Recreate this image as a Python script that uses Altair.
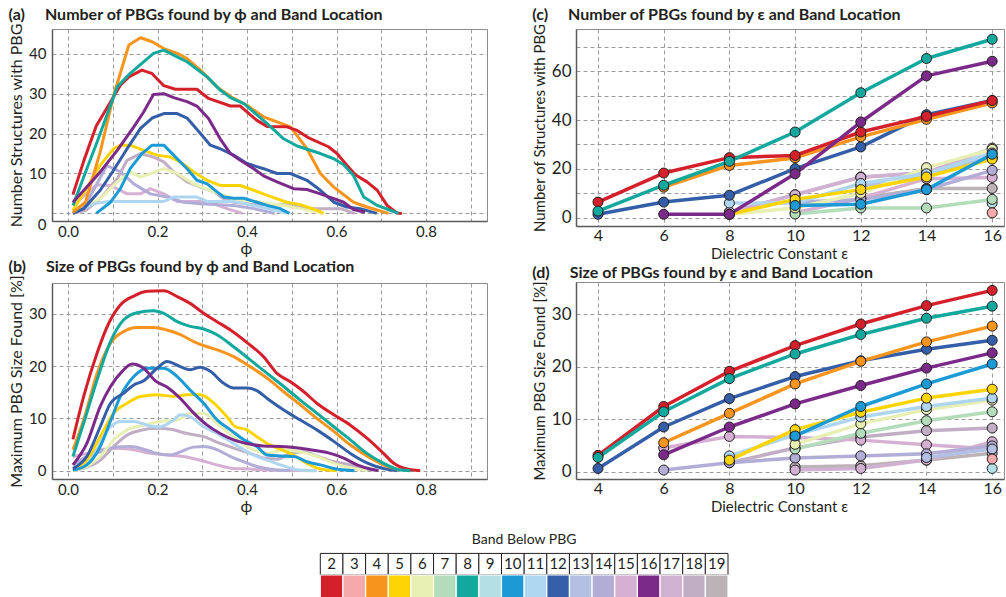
import altair as alt
import pandas as pd

# ---------------- bands & colours ----------------
BANDS = list(range(2, 20))
BAND_COLORS = ["#d4202a", "#f4a9ab", "#f7941d", "#fcd404", "#e8efb2", "#b3dcbb",
               "#12a89d", "#b3dfe5", "#1b9ad6", "#afd6f1", "#355ea8", "#b3c0e3",
               "#b2add7", "#d6b0d3", "#7b2a8a", "#d1b1d2", "#c1aec4", "#bcb3b6"]
DRAW_ORDER = [19, 18, 17, 15, 14, 13, 9, 7, 6, 3, 11, 5, 10, 12, 4, 2, 8, 16]

# ---------------- panel (a): number of PBGs vs phi ----------------
A2_X = [0.011, 0.035, 0.063, 0.095, 0.117, 0.136, 0.165, 0.187, 0.214, 0.240, 0.288, 0.314, 0.363, 0.385, 0.422, 0.445, 0.489, 0.512, 0.538, 0.582, 0.601, 0.623, 0.642, 0.668, 0.691, 0.713, 0.735, 0.746]
A2_Y = [4.7, 13.1, 21.9, 27.9, 32.1, 34.2, 35.9, 35.1, 32.0, 31.1, 31.1, 28.8, 26.9, 26.9, 23.3, 21.8, 21.7, 20.8, 18.9, 16.7, 15.0, 12.1, 9.7, 7.9, 5.8, 2.0, 0.1, 0]
A4_X = [0.011, 0.039, 0.072, 0.102, 0.136, 0.162, 0.188, 0.214, 0.244, 0.266, 0.296, 0.333, 0.370, 0.400, 0.437, 0.482, 0.497, 0.534, 0.564, 0.594, 0.638, 0.668, 0.716]
A4_Y = [0.3, 2.8, 15.4, 29.6, 42.2, 44.0, 43.0, 41.3, 40.1, 38.8, 35.9, 31.7, 28.8, 27.1, 24.2, 22.3, 21.7, 16.2, 10.0, 6.6, 2.8, 1.6, 0]
A8_X = [0.011, 0.042, 0.065, 0.110, 0.139, 0.191, 0.214, 0.244, 0.266, 0.311, 0.340, 0.363, 0.393, 0.445, 0.482, 0.512, 0.564, 0.594, 0.616, 0.638, 0.661, 0.691, 0.720, 0.739]
A8_Y = [2.0, 11.2, 17.9, 31.7, 35.1, 40.1, 40.9, 39.2, 38.0, 34.2, 30.9, 29.0, 27.5, 22.5, 18.7, 16.9, 15.0, 13.7, 12.2, 9.5, 4.1, 2.0, 0.8, 0]
A16_X = [0.011, 0.042, 0.072, 0.110, 0.147, 0.169, 0.191, 0.214, 0.236, 0.266, 0.288, 0.314, 0.340, 0.363, 0.385, 0.415, 0.437, 0.467, 0.504, 0.534, 0.564, 0.594, 0.616, 0.638, 0.664]
A16_Y = [2.8, 6.6, 10.4, 15.8, 21.7, 25.4, 29.8, 30.0, 29.0, 28.0, 26.9, 23.8, 18.7, 15.0, 13.3, 11.2, 9.4, 7.9, 6.2, 6.0, 4.9, 3.7, 2.8, 1.0, 0.3]
A12_X = [0.011, 0.035, 0.072, 0.100, 0.132, 0.162, 0.188, 0.214, 0.244, 0.266, 0.296, 0.318, 0.340, 0.370, 0.400, 0.437, 0.467, 0.497, 0.534, 0.564, 0.594, 0.623, 0.653, 0.690]
A12_Y = [0, 1.2, 5.8, 10.5, 16.2, 21.3, 23.9, 25.0, 25.0, 23.9, 20.0, 17.1, 16.2, 14.6, 12.5, 11.2, 10.0, 10.0, 8.3, 5.8, 2.8, 1.6, 1.2, 0]
A5_X = [0.011, 0.050, 0.072, 0.102, 0.117, 0.139, 0.169, 0.199, 0.229, 0.251, 0.281, 0.311, 0.340, 0.385, 0.415, 0.445, 0.489, 0.519, 0.556, 0.571]
A5_Y = [0.8, 7.9, 12.1, 16.2, 17.1, 17.1, 15.8, 14.6, 14.1, 12.9, 10.4, 8.3, 7.0, 7.0, 5.8, 4.5, 2.8, 2.2, 0.8, 0]
A10_X = [0.063, 0.095, 0.117, 0.139, 0.165, 0.188, 0.214, 0.236, 0.266, 0.288, 0.311, 0.333, 0.348, 0.370, 0.393, 0.422, 0.445, 0.474, 0.495]
A10_Y = [0, 2.8, 6.2, 11.2, 15.0, 17.1, 17.1, 14.6, 11.2, 8.3, 7.4, 5.4, 4.1, 3.8, 3.8, 2.8, 2.0, 1.2, 0]
A18_X = [0.011, 0.040, 0.072, 0.110, 0.132, 0.162, 0.191, 0.214, 0.236, 0.266, 0.296, 0.326, 0.348, 0.370, 0.400, 0.445, 0.489, 0.534, 0.564, 0.609, 0.640]
A18_Y = [0, 0.8, 3.7, 8.7, 13.3, 15.0, 14.1, 12.9, 10.4, 7.9, 6.6, 5.4, 3.7, 2.8, 2.4, 2.2, 2.2, 1.2, 1.2, 1.2, 0]
A6_X = [0.011, 0.072, 0.110, 0.139, 0.162, 0.214, 0.244, 0.281, 0.326, 0.370, 0.430, 0.482, 0.519, 0.570]
A6_Y = [0, 3.7, 7.9, 10.4, 9.1, 11.2, 10.0, 7.4, 5.4, 3.7, 2.8, 2.0, 1.2, 0]
A14_X = [0.011, 0.042, 0.087, 0.117, 0.147, 0.184, 0.221, 0.258, 0.296, 0.370, 0.415, 0.462]
A14_Y = [0, 2.8, 12.0, 10.4, 7.4, 4.9, 4.1, 2.8, 2.4, 2.0, 1.2, 0]
A15_X = [0.011, 0.065, 0.095, 0.132, 0.162, 0.184, 0.214, 0.244, 0.296, 0.326, 0.355, 0.390]
A15_Y = [2.0, 7.2, 7.0, 4.9, 4.9, 6.2, 4.9, 3.0, 3.0, 2.4, 1.2, 0]
A11_X = [0.020, 0.060, 0.090, 0.214, 0.236, 0.288, 0.311, 0.370, 0.415, 0.445, 0.489]
A11_Y = [0.5, 2.5, 3.0, 3.0, 4.1, 4.1, 3.0, 3.0, 2.0, 1.2, 0]

# ---------------- panel (b): size of PBGs vs phi ----------------
B2_X = [0.011, 0.035, 0.065, 0.091, 0.117, 0.147, 0.177, 0.214, 0.244, 0.273, 0.303, 0.333, 0.363, 0.400, 0.437, 0.467, 0.497, 0.527, 0.556, 0.594, 0.631, 0.668, 0.705, 0.728, 0.758, 0.787]
B2_Y = [6.0, 14.2, 22.5, 28.2, 31.7, 33.4, 34.3, 34.4, 33.3, 32.0, 30.1, 28.5, 26.9, 24.5, 21.8, 18.6, 17.0, 15.1, 12.9, 10.7, 8.7, 6.2, 3.3, 1.4, 0.3, 0]
B8_X = [0.011, 0.035, 0.065, 0.095, 0.124, 0.154, 0.191, 0.214, 0.244, 0.273, 0.303, 0.333, 0.370, 0.407, 0.445, 0.482, 0.519, 0.556, 0.594, 0.631, 0.668, 0.705, 0.743, 0.765]
B8_Y = [2.7, 9.1, 17.4, 24.7, 28.8, 30.2, 30.6, 30.1, 28.5, 27.6, 27.1, 26.0, 23.7, 21.2, 18.6, 16.1, 13.5, 11.0, 8.4, 5.9, 3.3, 1.4, 0.1, 0]
B4_X = [0.011, 0.035, 0.065, 0.095, 0.124, 0.154, 0.191, 0.221, 0.251, 0.281, 0.311, 0.340, 0.370, 0.407, 0.445, 0.482, 0.519, 0.556, 0.594, 0.631, 0.668, 0.705, 0.743]
B4_Y = [4.0, 9.7, 18.6, 24.4, 26.6, 27.4, 27.4, 26.9, 26.0, 24.7, 23.7, 22.9, 21.8, 19.9, 17.7, 15.1, 12.6, 10.0, 7.5, 4.9, 2.8, 1.1, 0.1]
B12_X = [0.011, 0.042, 0.072, 0.095, 0.124, 0.147, 0.169, 0.199, 0.221, 0.251, 0.273, 0.296, 0.318, 0.348, 0.370, 0.400, 0.422, 0.445, 0.482, 0.519, 0.556, 0.594, 0.631, 0.668, 0.705, 0.735]
B12_Y = [0.4, 2.7, 8.4, 12.9, 14.8, 16.4, 17.2, 19.6, 20.9, 19.9, 19.3, 19.8, 19.0, 16.7, 15.8, 15.8, 15.3, 13.8, 11.6, 9.7, 7.8, 5.6, 3.3, 1.5, 0.4, 0]
B16_X = [0.011, 0.042, 0.072, 0.095, 0.121, 0.143, 0.169, 0.195, 0.221, 0.251, 0.281, 0.311, 0.340, 0.370, 0.400, 0.437, 0.474, 0.519, 0.556, 0.586, 0.616, 0.646, 0.676, 0.694]
B16_Y = [1.1, 5.2, 12.3, 16.1, 19.0, 20.4, 19.6, 17.2, 16.0, 13.8, 11.0, 8.7, 7.1, 5.9, 5.2, 4.7, 4.6, 4.3, 3.8, 3.3, 2.4, 1.1, 0.3, 0]
B10_X = [0.011, 0.042, 0.072, 0.095, 0.117, 0.147, 0.177, 0.214, 0.244, 0.273, 0.303, 0.333, 0.363, 0.393, 0.422, 0.445, 0.474, 0.504, 0.534, 0.564, 0.594, 0.640]
B10_Y = [0.1, 1.1, 4.6, 9.5, 14.2, 18.0, 19.6, 19.6, 18.0, 15.4, 12.9, 9.7, 7.8, 5.9, 4.6, 3.0, 2.8, 2.7, 1.7, 1.1, 0.4, 0]
B5_X = [0.011, 0.042, 0.072, 0.102, 0.132, 0.162, 0.199, 0.236, 0.266, 0.296, 0.326, 0.355, 0.374, 0.400, 0.422, 0.445, 0.474, 0.504, 0.534, 0.564, 0.600]
B5_Y = [0.1, 2.0, 6.5, 11.0, 12.9, 14.2, 14.5, 14.2, 14.5, 14.5, 12.9, 10.3, 8.4, 7.8, 6.5, 5.2, 4.1, 3.0, 1.4, 0.3, 0]
B11_X = [0.011, 0.050, 0.095, 0.117, 0.147, 0.177, 0.206, 0.236, 0.251, 0.273, 0.303, 0.333, 0.370, 0.407, 0.445, 0.482, 0.519, 0.556]
B11_Y = [0.1, 2.0, 8.4, 9.4, 9.4, 8.7, 8.4, 9.7, 10.7, 10.3, 8.4, 7.1, 5.2, 3.3, 2.0, 0.9, 0.1, 0]
B6_X = [0.011, 0.042, 0.072, 0.102, 0.132, 0.169, 0.206, 0.244, 0.273, 0.303, 0.333, 0.370, 0.407, 0.445, 0.482, 0.519, 0.556, 0.594, 0.638, 0.668]
B6_Y = [0, 0.8, 2.7, 5.9, 7.8, 8.7, 9.4, 9.7, 11.0, 11.0, 9.0, 6.5, 4.3, 3.3, 4.0, 3.6, 2.7, 1.4, 0.4, 0]
B18_X = [0.011, 0.042, 0.072, 0.102, 0.132, 0.162, 0.199, 0.229, 0.266, 0.303, 0.340, 0.370, 0.407, 0.437, 0.467, 0.497, 0.527, 0.556, 0.594, 0.631, 0.668, 0.690]
B18_Y = [0, 0.7, 2.0, 4.6, 6.8, 7.7, 8.1, 7.9, 7.1, 6.5, 5.2, 4.3, 3.3, 2.4, 2.2, 3.3, 3.6, 2.8, 1.7, 1.1, 0.3, 0]
B14_X = [0.011, 0.042, 0.072, 0.110, 0.139, 0.169, 0.199, 0.229, 0.251, 0.281, 0.303, 0.333, 0.363, 0.393, 0.422, 0.467, 0.497]
B14_Y = [1.1, 2.7, 3.6, 4.5, 4.6, 4.1, 3.3, 3.0, 3.6, 4.5, 4.6, 4.0, 2.7, 1.7, 0.8, 0.1, 0]
B15_X = [0.011, 0.042, 0.072, 0.110, 0.147, 0.184, 0.221, 0.258, 0.296, 0.333, 0.370, 0.407, 0.445, 0.550]
B15_Y = [2.7, 3.3, 4.0, 4.3, 4.0, 3.3, 3.0, 2.7, 2.0, 1.1, 0.4, 0.3, 0.1, 0]

# ---------------- panels (c), (d): by dielectric constant ----------------
EPS = [4, 6, 8, 10, 12, 14, 16]
C2 = [6.4, 18.3, 24.6, 25.5, 35.1, 41.5, 48.0]
C3 = [None, None, None, None, None, None, 2.0]
C4 = [None, 12.5, 21.4, 24.5, 33.1, 40.3, 47.0]
C5 = [None, None, 1.4, 7.5, 11.5, 16.7, 24.0]
C6 = [None, None, 1.4, 4.0, 10.0, 20.5, 28.0]
C7 = [None, None, None, 1.5, 4.0, 4.0, 7.5]
C8 = [2.7, 13.3, 23.1, 35.1, 51.2, 65.2, 73.1]
C9 = [None, None, None, None, None, None, 6.0]
C10 = [None, None, None, 5.0, 5.5, 11.5, 26.0]
C11 = [None, None, 6.0, 6.0, 14.0, 18.0, 26.5]
C12 = [1.4, 6.4, 9.2, 20.1, 29.0, 42.2, 48.0]
C13 = [None, None, None, None, 13.0, 17.0, 25.0]
C14 = [None, None, None, 6.4, 7.4, 11.5, 19.4]
C15 = [None, None, None, 2.0, 8.0, 16.0, 16.5]
C16 = [None, 1.4, 1.4, 18.0, 39.2, 58.1, 64.1]
C17 = [None, None, 2.3, 9.4, 16.5, 18.5, 28.5]
C18 = [None, None, 2.3, 9.4, 16.7, 18.4, 24.5]
C19 = [None, None, None, None, 8.0, 12.0, 12.0]

D2 = [3.1, 12.4, 19.1, 24.0, 28.1, 31.6, 34.5]
D3 = [None, None, None, None, None, None, 2.4]
D4 = [None, 5.5, 11.1, 16.7, 21.0, 24.7, 27.7]
D5 = [None, None, 2.2, 8.0, 11.3, 14.0, 15.7]
D6 = [None, None, None, 5.2, 9.1, 11.8, 13.6]
D7 = [None, None, None, 4.3, 7.3, 9.7, 11.4]
D8 = [2.7, 11.4, 17.7, 22.4, 26.1, 29.2, 31.5]
D9 = [None, None, None, None, None, None, 0.6]
D10 = [None, None, None, 6.8, 12.4, 16.7, 20.5]
D11 = [None, None, 3.0, 7.0, 10.4, 12.4, 14.0]
D12 = [0.6, 8.5, 13.9, 18.1, 21.1, 23.3, 25.0]
D13 = [None, None, None, None, None, 2.7, 4.3]
D14 = [None, 0.3, 1.7, 2.6, 3.0, 3.4, 4.9]
D15 = [None, 4.5, 6.7, 6.5, 6.0, 5.1, 4.3]
D16 = [None, 3.2, 8.5, 12.9, 16.4, 19.7, 22.6]
D17 = [None, None, None, 0.3, 0.6, 2.2, 5.7]
D18 = [None, None, 1.7, 4.5, 6.6, 7.8, 8.3]
D19 = [None, None, None, 0.9, 1.1, 2.2, 3.5]

A_SERIES = {2: (A2_X, A2_Y), 4: (A4_X, A4_Y), 8: (A8_X, A8_Y), 16: (A16_X, A16_Y),
            12: (A12_X, A12_Y), 5: (A5_X, A5_Y), 10: (A10_X, A10_Y), 18: (A18_X, A18_Y),
            6: (A6_X, A6_Y), 14: (A14_X, A14_Y), 15: (A15_X, A15_Y), 11: (A11_X, A11_Y)}
B_SERIES = {2: (B2_X, B2_Y), 8: (B8_X, B8_Y), 4: (B4_X, B4_Y), 12: (B12_X, B12_Y),
            16: (B16_X, B16_Y), 10: (B10_X, B10_Y), 5: (B5_X, B5_Y), 11: (B11_X, B11_Y),
            6: (B6_X, B6_Y), 18: (B18_X, B18_Y), 14: (B14_X, B14_Y), 15: (B15_X, B15_Y)}
C_SERIES = {2: C2, 3: C3, 4: C4, 5: C5, 6: C6, 7: C7, 8: C8, 9: C9, 10: C10, 11: C11,
            12: C12, 13: C13, 14: C14, 15: C15, 16: C16, 17: C17, 18: C18, 19: C19}
D_SERIES = {2: D2, 3: D3, 4: D4, 5: D5, 6: D6, 7: D7, 8: D8, 9: D9, 10: D10, 11: D11,
            12: D12, 13: D13, 14: D14, 15: D15, 16: D16, 17: D17, 18: D18, 19: D19}

# ---------------- styling ----------------
FONT = "Lato"
TXT = "#231f20"
PADL = 8
PLOT_LEFT = 51.7          # page x of panel (a) plot area (origin of the legend row)
color_scale = alt.Scale(domain=[str(b) for b in BANDS], range=BAND_COLORS)
COLOR = alt.Color("band:N", scale=color_scale, legend=None)


def phi_frame(series):
    rows = []
    for b in DRAW_ORDER:
        if b in series:
            xs, ys = series[b]
            for x, y in zip(xs, ys):
                rows.append({"band": str(b), "x": x, "y": y})
    return pd.DataFrame(rows)


def eps_frame(series):
    rows = []
    for b in DRAW_ORDER:
        for e, v in zip(EPS, series[b]):
            if v is not None:
                rows.append({"band": str(b), "x": e, "y": v})
    return pd.DataFrame(rows)


def title(tag, text):
    return alt.TitleParams(tag + "\u2003\u2002" + text, anchor="start", frame="bounds",
                           fontSize=16, fontWeight="bold", font=FONT, color=TXT,
                           offset=0)


PHI_X_AXIS = dict(values=[0.0, 0.1, 0.2, 0.3, 0.4, 0.5, 0.6, 0.7, 0.8, 0.9],
                  labelExpr="(round(datum.value*10) % 2 == 0) ? format(datum.value, '.1f') : ''",
                  title="ϕ", titleFontSize=16, titleFontWeight="normal",
                  titleX=194, titleY=19, labelFontSize=15, labelPadding=3)
PHI_X_DOMAIN = [-0.0358, 0.9363]
EPS_X_AXIS = dict(values=EPS, title="Dielectric Constant ε", titleFontSize=15,
                  titleFontWeight="normal", titleX=203, titleY=20,
                  labelFontSize=16, labelPadding=1)
EPS_X_DOMAIN = [3.33, 16.36]


def phi_panel(series, ydom, yvals, ytitle, ttl, height, interp, label_offset=None):
    yax = dict(values=yvals, title=ytitle, titleFontSize=16, titleFontWeight="normal",
               labelFontSize=15, labelPadding=6, titlePadding=4)
    if label_offset is not None:
        yax["labelOffset"] = label_offset
    return alt.Chart(phi_frame(series)).mark_line(
        strokeWidth=3, interpolate=interp, clip=True, strokeJoin="round"
    ).encode(
        x=alt.X("x:Q", scale=alt.Scale(domain=PHI_X_DOMAIN, nice=False, zero=False),
                axis=alt.Axis(**PHI_X_AXIS)),
        y=alt.Y("y:Q", scale=alt.Scale(domain=ydom, nice=False, zero=False),
                axis=alt.Axis(**yax)),
        color=COLOR,
    ).properties(width=435, height=height, title=ttl)


def eps_panel(series, ydom, yvals, ylabexpr, ytitle, ttl, height):
    df = eps_frame(series)
    x = alt.X("x:Q", scale=alt.Scale(domain=EPS_X_DOMAIN, nice=False, zero=False),
              axis=alt.Axis(**EPS_X_AXIS))
    yax = dict(values=yvals, title=ytitle, titleFontSize=15, titleFontWeight="normal",
               labelFontSize=17, labelPadding=5, titlePadding=4)
    if ylabexpr:
        yax["labelExpr"] = ylabexpr
    y = alt.Y("y:Q", scale=alt.Scale(domain=ydom, nice=False, zero=False),
              axis=alt.Axis(**yax))
    base = alt.Chart(df).encode(x=x, y=y, color=COLOR)
    lines = base.mark_line(strokeWidth=3.5, clip=True, strokeJoin="round")
    pts = base.mark_circle(size=100, opacity=1, stroke="#231f20", strokeWidth=1)
    return alt.layer(lines, pts).properties(width=428, height=height, title=ttl)


zero_shift = alt.condition("datum.value == 0", alt.value(11), alt.value(0))

panel_a = phi_panel(A_SERIES, [-1.9, 46.2], [0, 10, 20, 30, 40], "Number Structures with PBG",
                    title("(a)", "Number of PBGs found by ϕ and Band Location"), 192, "linear",
                    label_offset=zero_shift)
panel_b = phi_panel(B_SERIES, [-1.6, 35.9], [0, 10, 20, 30], "Maximum PBG Size Found [%]",
                    title("(b)", "Size of PBGs found by ϕ and Band Location"), 196, "monotone")
panel_c = eps_panel(C_SERIES, [-3.4, 77.3], [0, 10, 20, 30, 40, 50, 60, 70],
                    "datum.value % 20 == 0 ? datum.label : ''", "Number of Structures with PBG",
                    title("(c)", "Number of PBGs found by ε and Band Location"), 197)
panel_d = eps_panel(D_SERIES, [-1.4, 36.1], [0, 10, 20, 30], None, "Maximum PBG Size Found [%]",
                    title("(d)", "Size of PBGs found by ε and Band Location"), 197)

# ---------------- legend table ----------------
LEG_LEFT = 320.0      # page x of first cell
CELL = 22.65
LEG_W = 940
LEG_H = 69
ROW = 21.6
TITLE_GAP = 0.63      # title centre above number row, in rows
leg_lo = -(LEG_LEFT - PLOT_LEFT) / CELL
leg_hi = leg_lo + LEG_W / CELL
y_lo = 1 - (TITLE_GAP + 0.5)
y_hi = y_lo + LEG_H / ROW
LEGEND_TITLE = "Band Below PBG"

leg_df = pd.DataFrame({
    "band": [str(b) for b in BANDS],
    "i0": list(range(len(BANDS))),
    "i1": [i + 1 for i in range(len(BANDS))],
    "ic": [i + 0.5 for i in range(len(BANDS))],
    "n0": [1.0] * len(BANDS), "n1": [2.0] * len(BANDS), "nc": [1.5] * len(BANDS),
    "c0": [2.0] * len(BANDS), "c1": [y_hi] * len(BANDS),
})
lx = alt.Scale(domain=[leg_lo, leg_hi], nice=False, zero=False)
ly = alt.Scale(domain=[y_lo, y_hi], nice=False, zero=False, reverse=True)
lbase = alt.Chart(leg_df)
num_cells = lbase.mark_rect(fill="white", stroke="#231f20", strokeWidth=1).encode(
    x=alt.X("i0:Q", scale=lx, axis=None), x2="i1:Q",
    y=alt.Y("n0:Q", scale=ly, axis=None), y2="n1:Q")
num_text = lbase.mark_text(font=FONT, fontSize=15, color=TXT).encode(
    x=alt.X("ic:Q", scale=lx, axis=None), y=alt.Y("nc:Q", scale=ly, axis=None), text="band:N")
col_cells = lbase.mark_rect(stroke="white", strokeWidth=1.2).encode(
    x=alt.X("i0:Q", scale=lx, axis=None), x2="i1:Q",
    y=alt.Y("c0:Q", scale=ly, axis=None), y2="c1:Q", color=COLOR)
leg_title = alt.Chart(pd.DataFrame({"t": [LEGEND_TITLE], "x": [9.0], "y": [1 - TITLE_GAP]})).mark_text(
    font=FONT, fontSize=14, color=TXT).encode(
    x=alt.X("x:Q", scale=lx, axis=None), y=alt.Y("y:Q", scale=ly, axis=None), text="t:N")
legend = alt.layer(num_cells, col_cells, num_text, leg_title).properties(
    width=LEG_W, height=LEG_H, view=alt.ViewBackground(strokeOpacity=0))

left = alt.vconcat(panel_a, panel_b, spacing=1)
right = alt.vconcat(panel_c, panel_d, spacing=2)
top = alt.hconcat(left, right, spacing=43)

chart = alt.vconcat(top, legend, spacing=14).properties(
    padding={"left": PADL, "top": 6, "right": 0, "bottom": 0},
    background="white",
).configure_view(stroke="#8c8c8c", strokeWidth=1).configure_axis(
    labelFont=FONT, titleFont=FONT, labelColor=TXT, titleColor=TXT,
    domainColor="#5a5a5a", domainWidth=1.5, ticks=False,
    gridColor="#9c9c9c", gridDash=[4, 3], gridWidth=1,
)

chart.save("out.html", embed_options={"renderer": "svg", "actions": False})
